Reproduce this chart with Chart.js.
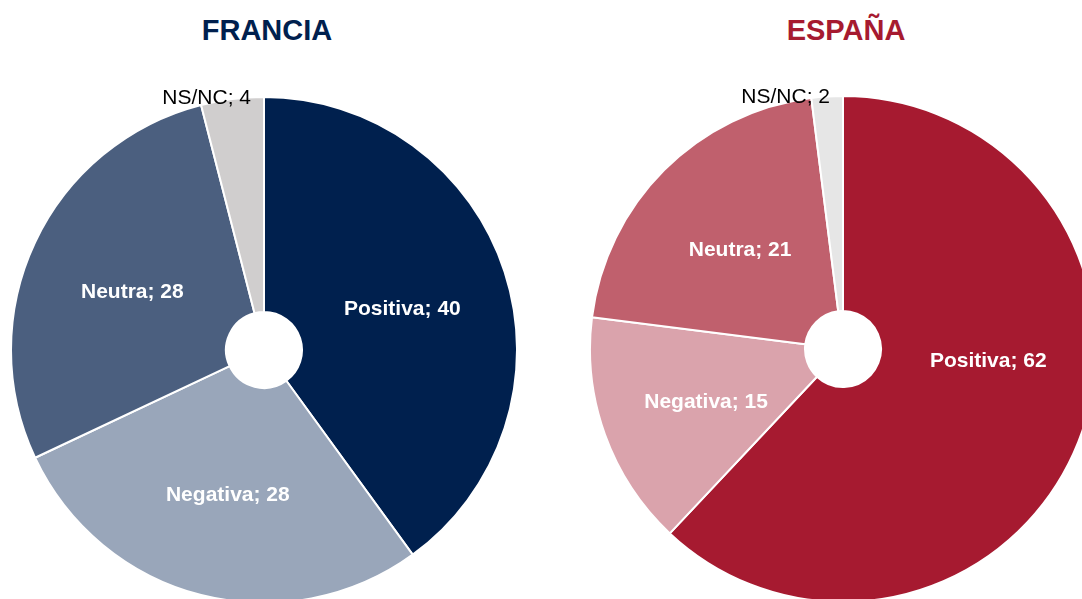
<!DOCTYPE html>
<html>
<head>
<meta charset="utf-8">
<script src="https://cdn.jsdelivr.net/npm/chart.js@4.4.1/dist/chart.umd.min.js"></script>
<style>
  html, body { margin: 0; padding: 0; background: #fff; overflow: hidden; width: 1082px; height: 599px; }
  .title { position: absolute; top: 14px; width: 300px; text-align: center; font: bold 29px "Liberation Sans", Arial, sans-serif; }
  .wrap { position: absolute; width: 508px; height: 548px; }
</style>
</head>
<body>
<div class="title" id="t-fr" style="left:117px;color:#00204e">FRANCIA</div>
<div class="title" id="t-es" style="left:696px;color:#a61a30">ESPAÑA</div>
<div class="wrap" style="left:10px;top:56px"><canvas id="pie-fr"></canvas></div>
<div class="wrap" style="left:589px;top:55px"><canvas id="pie-es"></canvas></div>
<script>
const categories = ["Positiva", "Negativa", "Neutra", "NS/NC"];
const franciaValues = [40, 28, 28, 4];
const espanaValues = [62, 15, 21, 2];

const franciaColors = ["#00204e", "#99a6ba", "#4b5f7f", "#d0cece"];
const espanaColors = ["#a61a30", "#daa3ac", "#c0606d", "#e6e6e6"];

// draws "Categoria; valor" on each slice, the small slice goes above the pie
const sliceLabels = {
  id: "sliceLabels",
  afterDatasetsDraw(chart, args, opts) {
    const ctx = chart.ctx;
    const meta = chart.getDatasetMeta(0);
    const values = chart.data.datasets[0].data;
    ctx.save();
    ctx.textBaseline = "alphabetic";
    meta.data.forEach((arc, i) => {
      const text = chart.data.labels[i] + "; " + values[i];
      if (i === opts.outsideIndex) {
        ctx.font = "normal 21px 'Liberation Sans', Arial, sans-serif";
        ctx.fillStyle = "#000";
        ctx.textAlign = "right";
        ctx.fillText(text, arc.x - 13, arc.y - arc.outerRadius + 7);
        return;
      }
      let p = arc.getCenterPoint();
      const ang = opts.angles && opts.angles[i];
      if (ang != null) {
        const r = (arc.innerRadius + arc.outerRadius) / 2;
        const a = (ang - 90) * Math.PI / 180;
        p = { x: arc.x + r * Math.cos(a), y: arc.y + r * Math.sin(a) };
      }
      ctx.font = "bold 21px 'Liberation Sans', Arial, sans-serif";
      ctx.fillStyle = "#fff";
      ctx.textAlign = "center";
      ctx.fillText(text, p.x, p.y + 10);
    });
    ctx.restore();
  }
};

function makePie(id, values, colors, angles) {
  const ctx = document.getElementById(id).getContext("2d");
  return new Chart(ctx, {
    type: "doughnut",
    data: {
      labels: categories,
      datasets: [{
        data: values,
        backgroundColor: colors,
        borderColor: "#fff",
        borderWidth: 2,
        hoverOffset: 0,
        hoverBorderWidth: 2
      }]
    },
    options: {
      responsive: true,
      maintainAspectRatio: false,
      animation: false,
      cutout: 38,
      layout: { padding: { top: 40 } },
      events: [],
      plugins: {
        legend: { display: false },
        tooltip: { enabled: false },
        sliceLabels: { outsideIndex: 3, angles: angles }
      }
    },
    plugins: [sliceLabels]
  });
}

makePie("pie-fr", franciaValues, franciaColors, null);
makePie("pie-es", espanaValues, espanaColors, { 0: 93 });
</script>
</body>
</html>
